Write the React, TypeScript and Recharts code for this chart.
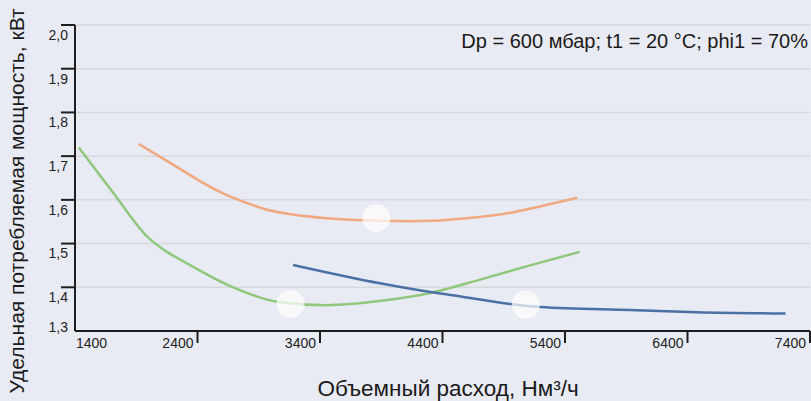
import { ComposedChart, Line, Scatter, XAxis, YAxis, CartesianGrid } from 'recharts'

const xTicks = [1400, 2400, 3400, 4400, 5400, 6400, 7400]
const yTicks = [1.3, 1.4, 1.5, 1.6, 1.7, 1.8, 1.9, 2.0]

const greenX = [1430, 1710, 2000, 2150, 2300, 2650, 3050, 3450, 3900, 4300, 4700, 5100, 5520]
const greenY = [1.72, 1.617, 1.513, 1.481, 1.457, 1.405, 1.367, 1.359, 1.369, 1.387, 1.417, 1.449, 1.481]

const orangeX = [1920, 2180, 2420, 2640, 2850, 3050, 3450, 3900, 4300, 4700, 5000, 5500]
const orangeY = [1.728, 1.684, 1.643, 1.611, 1.588, 1.572, 1.558, 1.552, 1.552, 1.561, 1.573, 1.605]

const blueX = [3180, 3890, 4300, 4570, 4950, 5200, 5930, 6480, 7200]
const blueY = [1.451, 1.409, 1.389, 1.378, 1.362, 1.355, 1.348, 1.343, 1.34]

const markerX = [3160, 3860, 5080]
const markerY = [1.362, 1.558, 1.36]

const toPoints = (xs: number[], ys: number[]) => xs.map((x, i) => ({ x, y: ys[i] }))

const FONT = "'Liberation Sans', Arial, sans-serif"
const AXIS = '#1e1e1e'

function XTick({ x, y, payload }: any) {
  const first = payload.value === xTicks[0]
  return (
    <g>
      {!first && <line x1={x} x2={x} y1={y - 12} y2={y} stroke={AXIS} strokeWidth={2} />}
      <text
        x={first ? x + 1 : x - 4}
        y={y}
        dy="0.35em"
        textAnchor={first ? 'start' : 'end'}
        fill="#222"
        fontSize={14}
        fontFamily={FONT}
      >
        {payload.value}
      </text>
    </g>
  )
}

function YTick({ x, y, payload }: any) {
  const bottom = payload.value === yTicks[0]
  return (
    <g>
      {!bottom && <line x1={x} x2={x + 14} y1={y} y2={y} stroke={AXIS} strokeWidth={2} />}
      <text
        x={x + 7}
        y={bottom ? y - 4 : y + 10}
        dy="0.35em"
        textAnchor="end"
        fill="#222"
        fontSize={14}
        fontFamily={FONT}
      >
        {payload.value.toFixed(1).replace('.', ',')}
      </text>
    </g>
  )
}

function Marker({ cx, cy }: any) {
  return <circle cx={cx} cy={cy} r={14} fill="#ffffff" fillOpacity={0.7} />
}

export default function App() {
  return (
    <div style={{ position: 'absolute', left: 0, top: 0, width: 811, height: 401, overflow: 'hidden', background: '#e9ebf4', fontFamily: FONT }}>
      <ComposedChart width={811} height={401} margin={{ top: 25, right: 1, bottom: 0, left: 0 }}>
        <CartesianGrid vertical={false} stroke="#d7d8de" strokeWidth={1.5} />
        <XAxis
          dataKey="x"
          type="number"
          domain={[1400, 7400]}
          ticks={xTicks}
          allowDataOverflow
          height={70}
          tickSize={12}
          tickMargin={0}
          tickLine={false}
          axisLine={{ stroke: AXIS, strokeWidth: 2 }}
          tick={<XTick />}
          interval={0}
        />
        <YAxis
          type="number"
          domain={[1.3, 2.0]}
          ticks={yTicks}
          allowDataOverflow
          width={75}
          tickSize={14}
          tickMargin={0}
          tickLine={false}
          axisLine={{ stroke: AXIS, strokeWidth: 2 }}
          tick={<YTick />}
          interval={0}
        />
        <Line data={toPoints(greenX, greenY)} dataKey="y" type="monotone" stroke="#8fc87d" strokeWidth={2.5} dot={false} isAnimationActive={false} />
        <Line data={toPoints(orangeX, orangeY)} dataKey="y" type="natural" stroke="#f0a87e" strokeWidth={2.5} dot={false} isAnimationActive={false} />
        <Line data={toPoints(blueX, blueY)} dataKey="y" type="monotone" stroke="#4b71a4" strokeWidth={2.5} dot={false} isAnimationActive={false} />
        <Scatter data={toPoints(markerX, markerY)} dataKey="y" shape={<Marker />} isAnimationActive={false} />
      </ComposedChart>
      <div style={{ position: 'absolute', right: 3, top: 30, fontSize: 20, color: '#1a1a1a', whiteSpace: 'nowrap' }}>
        Dp = 600 мбар; t1 = 20 °C; phi1 = 70%
      </div>
      <div style={{ position: 'absolute', left: 448, top: 389, transform: 'translate(-50%, -50%)', fontSize: 22.5, color: '#1a1a1a', whiteSpace: 'nowrap' }}>
        Объемный расход, Нм³/ч
      </div>
      <div style={{ position: 'absolute', left: 17, top: 201, transform: 'translate(-50%, -50%) rotate(-90deg)', fontSize: 21, color: '#1a1a1a', whiteSpace: 'nowrap' }}>
        Удельная потребляемая мощность, кВт
      </div>
    </div>
  )
}
